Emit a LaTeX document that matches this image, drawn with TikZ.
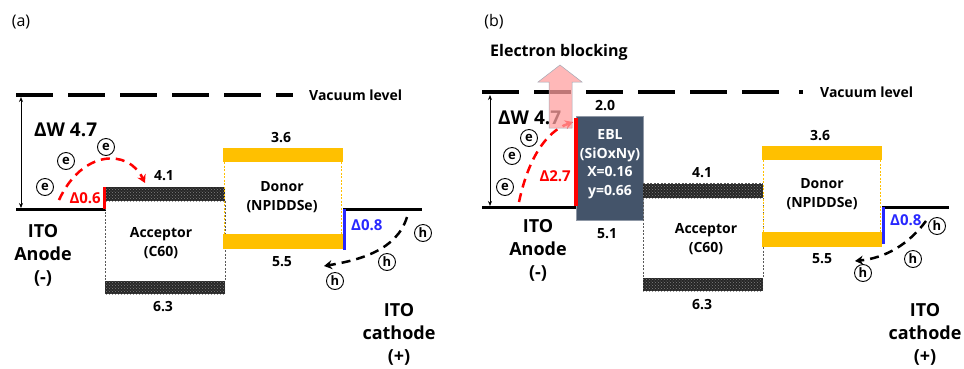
\documentclass[tikz,border=0pt]{standalone}
\usepackage{fontspec}
\setmainfont{Open Sans}
\usetikzlibrary{arrows.meta,patterns}
\definecolor{gold}{RGB}{255,192,0}
\definecolor{ebl}{RGB}{68,84,106}
\definecolor{myblue}{RGB}{40,40,255}
\definecolor{myred}{RGB}{255,0,0}
\definecolor{pinkfill}{RGB}{255,160,160}
\tikzset{
  panel/.style={font=\fontsize{16}{18}\selectfont, inner sep=0pt},
  num/.style={font=\bfseries\fontsize{14}{16}\selectfont, inner sep=0pt},
  dlt/.style={font=\bfseries\fontsize{15}{16}\selectfont, inner sep=0pt},
  lbl/.style={font=\bfseries\fontsize{14}{19}\selectfont, inner sep=0pt, align=center},
  big/.style={font=\bfseries\fontsize{18}{23}\selectfont, inner sep=0pt, align=center},
  dw/.style={font=\bfseries\fontsize{19}{20}\selectfont, inner sep=0pt},
  carrier/.style={circle, draw, line width=0.9pt, minimum size=17pt, inner sep=0pt, font=\bfseries\fontsize{13}{13}\selectfont},
  vac/.style={line width=4pt, dash pattern=on 37pt off 15pt},
  metal/.style={line width=3pt},
  hatch/.style={fill=black!85, postaction={pattern=crosshatch dots, pattern color=gray}},
  goldbar/.style={fill=gold},
  thinblack/.style={gray!70!black, line width=0.5pt, dash pattern=on 2pt off 1.5pt},
  thingold/.style={gold, line width=0.6pt, dash pattern=on 2pt off 1.5pt},
  edash/.style={myred, line width=2.5pt, dash pattern=on 9pt off 6pt, -{Stealth[length=8pt,width=9pt]}},
  hdash/.style={black, line width=2.5pt, dash pattern=on 9pt off 6pt, -{Stealth[length=8pt,width=9pt]}},
  dbl/.style={line width=0.9pt, {Stealth[length=5pt,width=4pt]}-{Stealth[length=5pt,width=4pt]}},
}
\begin{document}
\begin{tikzpicture}[x=1pt,y=-1pt]
\useasboundingbox (0,0) rectangle (964,368);
% ================= (a) =================
\node[panel] (pa) at (21,22) {(a)};
\coordinate (vacA1) at (16,95);
\coordinate (vacA2) at (293,95);
\draw[vac] (vacA1) -- (vacA2);
\node[lbl, anchor=west] (vacAlbl) at (309,95) {Vacuum level};
\coordinate (dwA1) at (21,97);
\coordinate (dwA2) at (21,208);
\draw[dbl] (dwA1) -- (dwA2);
\node[dw, anchor=west] (dwAl) at (34,130) {ΔW 4.7};
% anode
\coordinate (anA1) at (16,209);
\coordinate (anA2) at (106,209);
\draw[metal] (anA1) -- (anA2);
% acceptor
\draw[thinblack] (105,201) -- (105,281) (225,201) -- (225,281);
\path[hatch] (105,187) rectangle (225,201);
\path[hatch] (105,281) rectangle (225,294);
\node[num] (a41) at (164,176) {4.1};
\node[num] (a63) at (163,307) {6.3};
\node[lbl] (accA) at (161,243) {Acceptor\\(C60)};
% red bar
\coordinate (rbA1) at (104,187);
\coordinate (rbA2) at (104,209);
\draw[myred, line width=3pt] (rbA1) -- (rbA2);
\node[dlt, myred, anchor=east] (d06) at (101,198) {Δ0.6};
% donor
\draw[thingold] (224,162) -- (224,234) (341,162) -- (341,234);
\path[goldbar] (223,148) rectangle (343,162);
\path[goldbar] (223,234) rectangle (343,249);
\node[num] (a36) at (281,138) {3.6};
\node[num] (a55) at (282,262) {5.5};
\node[lbl] (donA) at (282,197) {Donor\\(NPIDDSe)};
% cathode
\coordinate (caA1) at (343,209);
\coordinate (caA2) at (422,209);
\draw[metal] (caA1) -- (caA2);
\coordinate (bbA1) at (344,209);
\coordinate (bbA2) at (344,250);
\draw[myblue, line width=3pt] (bbA1) -- (bbA2);
\node[dlt, myblue, anchor=west] (d08a) at (351,225) {Δ0.8};
\node[big] (itoA) at (43,255) {ITO\\Anode\\(-)};
\node[big] (itoC) at (399,334) {ITO\\cathode\\(+)};
% carriers
\node[carrier] (eA1) at (106,147) {e};
\node[carrier] (eA2) at (66,161) {e};
\node[carrier] (eA3) at (45,187) {e};
\coordinate (eArS) at (59,200);
\coordinate (eArE) at (145,183);
\draw[edash] (eArS) .. controls (82,150) and (128,148) .. (eArE);
\node[carrier] (hA1) at (423,233) {h};
\node[carrier] (hA2) at (387,262) {h};
\node[carrier] (hA3) at (335,281) {h};
\coordinate (hArS) at (407,217);
\coordinate (hArE) at (324,266);
\draw[hdash] (hArS) .. controls (397,250) and (360,260) .. (hArE);
% ================= (b) =================
\node[panel] (pb) at (494,22) {(b)};
\node[font=\bfseries\fontsize{16}{18}\selectfont, inner sep=0pt, anchor=west] (ebt) at (490,52) {Electron blocking};
\coordinate (vacB1) at (482,92);
\coordinate (vacB2) at (783,92);
\draw[vac] (vacB1) -- (vacB2);
\path[fill=black] (799,90) rectangle (803,94);
\node[lbl, anchor=west] (vacBlbl) at (820,92) {Vacuum level};
\coordinate (dwB1) at (490,95);
\coordinate (dwB2) at (490,206);
\draw[dbl] (dwB1) -- (dwB2);
\node[dw, anchor=west] (dwBl) at (498,118) {ΔW 4.7};
\coordinate (anB1) at (482,207);
\coordinate (anB2) at (577,207);
\draw[metal] (anB1) -- (anB2);
% EBL
\node[draw=ebl!60!white, line width=0.5pt, fill=ebl, minimum width=67pt, minimum height=104pt, anchor=north west, inner sep=0pt] (eblbox) at (576,116) {};
\node[font=\bfseries\fontsize{14}{18.5}\selectfont, text=white, align=center, inner sep=0pt] (ebltxt) at (610,164) {EBL\\(SiOxNy)\\X=0.16\\y=0.66};
\node[num] (b20) at (605,106) {2.0};
\node[num] (b51) at (607,234) {5.1};
\coordinate (rbB1) at (576,118);
\coordinate (rbB2) at (576,206);
\draw[myred, line width=3.5pt] (rbB1) -- (rbB2);
\node[dlt, myred, anchor=east] (d27) at (571,176) {Δ2.7};
% acceptor
\draw[thinblack] (643,198) -- (643,278) (763,198) -- (763,278) (643,183) -- (763,183);
\path[hatch] (643,184) rectangle (763,198);
\path[hatch] (643,278) rectangle (763,291);
\node[num] (b41) at (702,173) {4.1};
\node[num] (b63) at (702,305) {6.3};
\node[lbl] (accB) at (706,239) {Acceptor\\(C60)};
% donor
\draw[thingold] (763,160) -- (763,232) (880,160) -- (880,232);
\path[goldbar] (762,146) rectangle (882,160);
\path[goldbar] (762,232) rectangle (882,247);
\node[num] (b36) at (820,136) {3.6};
\node[num] (b55) at (822,259) {5.5};
\node[lbl] (donB) at (822,194) {Donor\\(NPIDDSe)};
\coordinate (caB1) at (882,207);
\coordinate (caB2) at (949,207);
\draw[metal] (caB1) -- (caB2);
\coordinate (bbB1) at (883,207);
\coordinate (bbB2) at (883,244);
\draw[myblue, line width=3pt] (bbB1) -- (bbB2);
\node[dlt, myblue, anchor=west] (d08b) at (890,220) {Δ0.8};
\node[big] (itoB) at (538,250) {ITO\\Anode\\(-)};
\node[big] (itoCB) at (925,334) {ITO\\cathode\\(+)};
% carriers
\node[carrier] (eB1) at (529,138) {e};
\node[carrier] (eB2) at (512,156) {e};
\node[carrier] (eB3) at (505,187) {e};
\coordinate (eBrS) at (519,202);
\coordinate (eBrE) at (573,122);
\draw[edash] (eBrS) .. controls (528,160) and (545,132) .. (eBrE);
\node[carrier] (hB1) at (937,226) {h};
\node[carrier] (hB2) at (913,259) {h};
\node[carrier] (hB3) at (863,273) {h};
\coordinate (hBrS) at (926,221);
\coordinate (hBrE) at (855,261);
\draw[hdash] (hBrS) .. controls (908,245) and (885,258) .. (hBrE);
% pink arrow
\path[fill=pinkfill, fill opacity=0.75, draw=ebl!50!white, line width=0.5pt]
  (549,128) -- (549,82) -- (538,82) -- (560,65) -- (582,82) -- (572,82) -- (572,128) -- cycle;
\end{tikzpicture}
\end{document}
